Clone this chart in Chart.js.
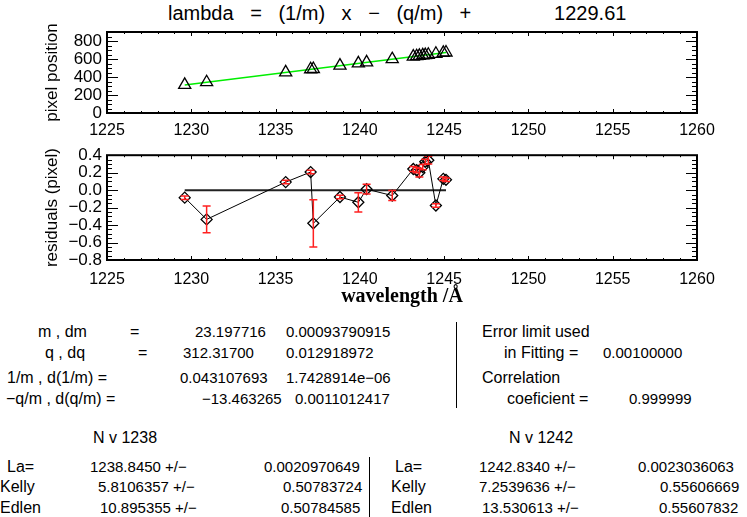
<!DOCTYPE html>
<html>
<head>
<meta charset="utf-8">
<script src="https://cdn.jsdelivr.net/npm/chart.js@4.4.1/dist/chart.umd.min.js"></script>
<style>
  body { margin: 0; background: #fff; }
  #wrap { position: relative; width: 747px; height: 517px; overflow: hidden;
          font-family: "Liberation Sans", Arial, sans-serif; font-size: 16px; color: #000; }
  canvas { position: absolute; left: 0; }
  .t { position: absolute; white-space: pre; line-height: 20px; }
  .n { font-size: 15px; }
  .vl { position: absolute; width: 1px; background: #000; }
  #title { position: absolute; left: 168px; top: 1px; font-size: 20px; line-height: 24px;
           white-space: pre; word-spacing: 11px; }
</style>
</head>
<body>
<div id="wrap">
  <div id="title">lambda = (1/m) x − (q/m) +     1229.61</div>
  <canvas id="fitChart" width="747" height="140" style="top:0"></canvas>
  <canvas id="resChart" width="747" height="170" style="top:140px"></canvas>

  <!-- fit results -->
  <div class="t" style="left:38px;top:322px">m , dm</div>
  <div class="t" style="left:130px;top:322px">=</div>
  <div class="t n" style="left:195px;top:322px">23.197716</div>
  <div class="t n" style="left:286px;top:322px">0.00093790915</div>

  <div class="t" style="left:45px;top:343px">q , dq</div>
  <div class="t" style="left:138px;top:343px">=</div>
  <div class="t n" style="left:183px;top:343px">312.31700</div>
  <div class="t n" style="left:286px;top:343px">0.012918972</div>

  <div class="t" style="left:7px;top:368px">1/m , d(1/m) =</div>
  <div class="t n" style="left:180px;top:368px">0.043107693</div>
  <div class="t n" style="left:286px;top:368px">1.7428914e−06</div>

  <div class="t" style="left:6px;top:389px">−q/m , d(q/m) =</div>
  <div class="t n" style="left:202px;top:389px">−13.463265</div>
  <div class="t n" style="left:295px;top:389px">0.0011012417</div>

  <div class="vl" style="left:456px;top:322px;height:86px"></div>

  <div class="t" style="left:482px;top:322px">Error limit used</div>
  <div class="t" style="left:504px;top:343px">in Fitting =</div>
  <div class="t n" style="left:603px;top:343px">0.00100000</div>
  <div class="t" style="left:482px;top:368px">Correlation</div>
  <div class="t" style="left:507px;top:389px">coeficient =</div>
  <div class="t n" style="left:629px;top:389px">0.999999</div>

  <!-- line results -->
  <div class="t" style="left:93px;top:428px">N v 1238</div>
  <div class="t" style="left:509px;top:428px">N v 1242</div>

  <div class="t" style="left:7px;top:457px">La=</div>
  <div class="t n" style="left:90px;top:457px">1238.8450 +/−</div>
  <div class="t n" style="left:264px;top:457px">0.0020970649</div>
  <div class="t" style="left:0px;top:477px">Kelly</div>
  <div class="t n" style="left:98px;top:477px">5.8106357 +/−</div>
  <div class="t n" style="left:283px;top:477px">0.50783724</div>
  <div class="t" style="left:0px;top:498px">Edlen</div>
  <div class="t n" style="left:100px;top:498px">10.895355 +/−</div>
  <div class="t n" style="left:281px;top:498px">0.50784585</div>

  <div class="vl" style="left:369px;top:457px;height:60px"></div>

  <div class="t" style="left:395px;top:457px">La=</div>
  <div class="t n" style="left:479px;top:457px">1242.8340 +/−</div>
  <div class="t n" style="left:638px;top:457px">0.0023036063</div>
  <div class="t" style="left:391px;top:477px">Kelly</div>
  <div class="t n" style="left:479px;top:477px">7.2539636 +/−</div>
  <div class="t n" style="left:660px;top:477px">0.55606669</div>
  <div class="t" style="left:391px;top:498px">Edlen</div>
  <div class="t n" style="left:482px;top:498px">13.530613 +/−</div>
  <div class="t n" style="left:659px;top:498px">0.55607832</div>
</div>

<script>
// valori
const wavelengths = [1229.61, 1230.91, 1235.60, 1237.08, 1237.24, 1238.82, 1239.91, 1240.40, 1241.92,
                     1243.17, 1243.37, 1243.53, 1243.73, 1243.88, 1244.06, 1244.51, 1244.95, 1245.11];
const pixelPositions = [312, 342, 451, 486, 489, 526, 551, 562, 598,
                        627, 631, 635, 640, 643, 647, 658, 668, 672];
const residuals = [-0.086, -0.335, 0.092, 0.207, -0.38, -0.079, -0.139, 0.011, -0.062,
                   0.242, 0.228, 0.20, 0.264, 0.325, 0.343, -0.176, 0.129, 0.118];
const residualErrors = [0.02, 0.152, 0.02, 0.02, 0.27, 0.02, 0.11, 0.055, 0.057,
                        0.03, 0.03, 0.05, 0.03, 0.03, 0.045, 0.02, 0.02, 0.02];
// retta del fit e linea dello zero
const fitWavelengths = [1229.61, 1245.11];
const fitPixels = [312.3, 672.0];
const zeroResidual = [0, 0];

const xTicks = [1225, 1230, 1235, 1240, 1245, 1250, 1255, 1260];

Chart.defaults.font.family = '"Liberation Sans", Arial, sans-serif';
Chart.defaults.color = '#000';

// cornice in stile IDL con tacche verso l'interno
const idlFrame = {
  id: 'idlFrame',
  afterDraw(chart, args, o) {
    const { ctx, chartArea: a, scales: { x, y } } = chart;
    ctx.save();
    ctx.strokeStyle = '#000';
    ctx.lineWidth = 1;
    ctx.beginPath();
    let n = Math.round((x.max - x.min) / o.xMinor);
    for (let i = 0; i <= n; i++) {
      const v = x.min + i * o.xMinor;
      const r = (v - x.min) / o.xMajor;
      const len = Math.abs(r - Math.round(r)) < 1e-6 ? o.xMajorLen : o.xMinorLen;
      const p = Math.round(x.getPixelForValue(v)) + 0.5;
      ctx.moveTo(p, a.bottom); ctx.lineTo(p, a.bottom - len);
      ctx.moveTo(p, a.top); ctx.lineTo(p, a.top + len);
    }
    n = Math.round((y.max - y.min) / o.yMinor);
    for (let i = 0; i <= n; i++) {
      const v = y.min + i * o.yMinor;
      const r = (v - y.min) / o.yMajor;
      const len = Math.abs(r - Math.round(r)) < 1e-6 ? o.yMajorLen : o.yMinorLen;
      const p = Math.round(y.getPixelForValue(v)) + 0.5;
      ctx.moveTo(a.left, p); ctx.lineTo(a.left + len, p);
      ctx.moveTo(a.right, p); ctx.lineTo(a.right - len, p);
    }
    ctx.stroke();
    ctx.lineWidth = 2;
    ctx.strokeRect(a.left, a.top, a.width, a.height);
    ctx.restore();
  }
};

// barre d'errore rosse
const errorBars = {
  id: 'errorBars',
  afterDatasetsDraw(chart, args, o) {
    if (!o.errors) return;
    const { ctx, scales: { x, y } } = chart;
    ctx.save();
    ctx.strokeStyle = '#ff2020';
    ctx.lineWidth = 1.5;
    ctx.beginPath();
    o.errors.forEach((e, i) => {
      const px = x.getPixelForValue(wavelengths[i]);
      const lo = y.getPixelForValue(residuals[i] - e);
      const hi = y.getPixelForValue(residuals[i] + e);
      ctx.moveTo(px, lo); ctx.lineTo(px, hi);
      ctx.moveTo(px - 4, lo); ctx.lineTo(px + 4, lo);
      ctx.moveTo(px - 4, hi); ctx.lineTo(px + 4, hi);
    });
    ctx.stroke();
    ctx.restore();
  }
};

function xScale(pad, height, withTitle) {
  return {
    type: 'linear', min: 1225, max: 1260,
    grid: { display: false, drawTicks: false }, border: { display: false },
    afterBuildTicks: s => { s.ticks = xTicks.map(v => ({ value: v })); },
    ticks: { font: { size: 16 }, padding: pad, maxRotation: 0, autoSkip: false,
             callback: v => String(v) },
    title: withTitle ? { display: true, text: 'wavelength /Å',
      font: { family: '"Liberation Serif", serif', size: 20, weight: 'bold' },
      padding: { top: 0, bottom: 1 } } : { display: false },
    afterFit: s => { s.height = height; }
  };
}

new Chart(document.getElementById('fitChart'), {
  type: 'scatter',
  data: {
    datasets: [{
      data: fitWavelengths.map((v, i) => ({ x: v, y: fitPixels[i] })),
      showLine: true, borderColor: '#00ee00', borderWidth: 1.5, pointRadius: 0, order: 2
    }, {
      data: wavelengths.map((v, i) => ({ x: v, y: pixelPositions[i] })),
      pointStyle: 'triangle', pointRadius: 7, pointBorderWidth: 1.3,
      borderColor: '#000', backgroundColor: 'rgba(0,0,0,0)', order: 1
    }]
  },
  options: {
    responsive: false, animation: false, devicePixelRatio: 1,
    layout: { padding: { left: 0, right: 50, top: 32, bottom: 0 } },
    plugins: {
      legend: { display: false }, tooltip: { enabled: false },
      idlFrame: { xMinor: 1, xMajor: 5, xMajorLen: 4, xMinorLen: 2,
                  yMinor: 50, yMajor: 200, yMajorLen: 11, yMinorLen: 5 }
    },
    scales: {
      x: xScale(8, 27, false),
      y: {
        min: 0, max: 900,
        grid: { display: false, drawTicks: false }, border: { display: false },
        ticks: { stepSize: 200, includeBounds: false, autoSkip: false, font: { size: 17 },
                 padding: 5, callback: v => String(v) },
        title: { display: true, text: 'pixel position', font: { size: 17 },
                 padding: { top: 42, bottom: 0 } },
        afterFit: s => { s.width = 107; }
      }
    }
  },
  plugins: [idlFrame]
});

new Chart(document.getElementById('resChart'), {
  type: 'scatter',
  data: {
    datasets: [{
      data: fitWavelengths.map((v, i) => ({ x: v, y: zeroResidual[i] })),
      showLine: true, borderColor: '#222', borderWidth: 2, pointRadius: 0, order: 2
    }, {
      data: wavelengths.map((v, i) => ({ x: v, y: residuals[i] })),
      showLine: true, borderColor: '#000', borderWidth: 1,
      pointStyle: 'rectRot', pointRadius: 5.5, pointBorderWidth: 1.3,
      pointBorderColor: '#000', pointBackgroundColor: 'rgba(0,0,0,0)', order: 1
    }]
  },
  options: {
    responsive: false, animation: false, devicePixelRatio: 1,
    layout: { padding: { left: 0, right: 50, top: 8, bottom: 0 } },
    plugins: {
      legend: { display: false }, tooltip: { enabled: false },
      errorBars: { errors: residualErrors },
      idlFrame: { xMinor: 1, xMajor: 5, xMajorLen: 4, xMinorLen: 2,
                  yMinor: 0.05, yMajor: 0.2, yMajorLen: 11, yMinorLen: 5 }
    },
    scales: {
      x: xScale(10, 50, true),
      y: {
        min: -0.8, max: 0.4,
        grid: { display: false, drawTicks: false }, border: { display: false },
        ticks: { stepSize: 0.2, autoSkip: false, font: { size: 17 }, padding: 5,
                 callback: v => (v < -1e-9 ? '\u2212' : '') + Math.abs(v).toFixed(1) },
        title: { display: true, text: 'residuals (pixel)', font: { size: 17 },
                 padding: { top: 42, bottom: 0 } },
        afterFit: s => { s.width = 107; }
      }
    }
  },
  plugins: [idlFrame, errorBars]
});
</script>
</body>
</html>
